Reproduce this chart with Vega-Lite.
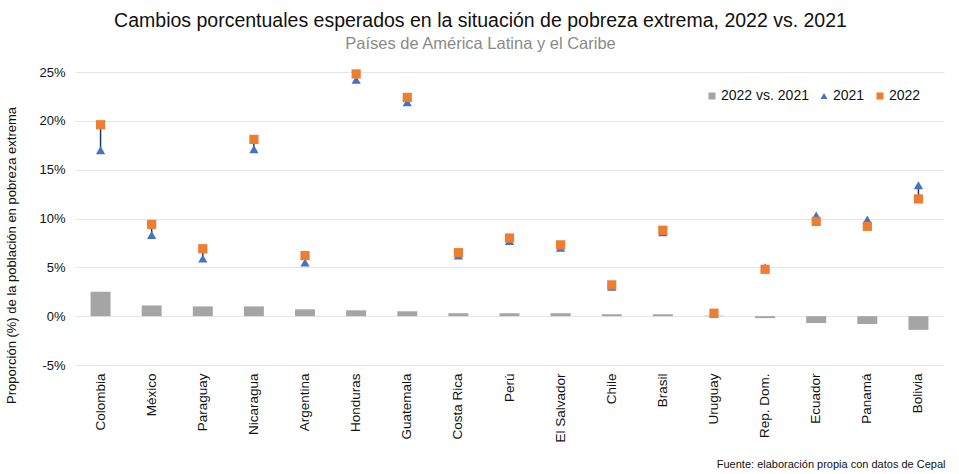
{
  "$schema": "https://vega.github.io/schema/vega-lite/v6.json",
  "autosize": "none",
  "width": 869,
  "height": 293,
  "padding": {"left": 75, "top": 72, "right": 15, "bottom": 109},
  "background": "white",
  "config": {
    "font": "Liberation Sans",
    "view": {"stroke": null}
  },
  "title": {
    "text": "Cambios porcentuales esperados en la situación de pobreza extrema, 2022 vs. 2021",
    "subtitle": "Países de América Latina y el Caribe",
    "anchor": "middle",
    "dx": -29,
    "offset": 13,
    "fontSize": 19.5,
    "fontWeight": "normal",
    "color": "#111111",
    "subtitleFontSize": 16.5,
    "subtitleColor": "#8a8a8a",
    "subtitlePadding": 4
  },
  "data": {
    "values": [
      {"pais": "Colombia", "v2021": 17.0, "v2022": 19.6, "diff": 2.5},
      {"pais": "México", "v2021": 8.3, "v2022": 9.4, "diff": 1.1},
      {"pais": "Paraguay", "v2021": 5.9, "v2022": 6.9, "diff": 1.0},
      {"pais": "Nicaragua", "v2021": 17.1, "v2022": 18.1, "diff": 1.0},
      {"pais": "Argentina", "v2021": 5.5, "v2022": 6.2, "diff": 0.7},
      {"pais": "Honduras", "v2021": 24.2, "v2022": 24.8, "diff": 0.6},
      {"pais": "Guatemala", "v2021": 21.9, "v2022": 22.4, "diff": 0.5},
      {"pais": "Costa Rica", "v2021": 6.2, "v2022": 6.5, "diff": 0.3},
      {"pais": "Perú", "v2021": 7.7, "v2022": 8.0, "diff": 0.3},
      {"pais": "El Salvador", "v2021": 7.0, "v2022": 7.3, "diff": 0.3},
      {"pais": "Chile", "v2021": 3.0, "v2022": 3.2, "diff": 0.2},
      {"pais": "Brasil", "v2021": 8.6, "v2022": 8.8, "diff": 0.2},
      {"pais": "Uruguay", "v2021": 0.25, "v2022": 0.3, "diff": 0.05},
      {"pais": "Rep. Dom.", "v2021": 5.0, "v2022": 4.8, "diff": -0.2},
      {"pais": "Ecuador", "v2021": 10.3, "v2022": 9.7, "diff": -0.7},
      {"pais": "Panamá", "v2021": 9.9, "v2022": 9.2, "diff": -0.8},
      {"pais": "Bolivia", "v2021": 13.4, "v2022": 12.0, "diff": -1.4}
    ]
  },
  "encoding": {
    "x": {
      "field": "pais",
      "type": "nominal",
      "sort": null,
      "scale": {"paddingInner": 0, "paddingOuter": 0},
      "axis": {
        "title": "Fuente: elaboración propia con datos de Cepal",
        "titleFontSize": 11,
        "titleFontWeight": "normal",
        "titleColor": "#111111",
        "titleAnchor": "end",
        "titleAlign": "right",
        "titleX": 870,
        "titleY": 102,
        "titleBaseline": "alphabetic",
        "labelAngle": -90,
        "labelAlign": "right",
        "labelBaseline": "middle",
        "labelFontSize": 13.5,
        "labelColor": "#111111",
        "labelPadding": 8,
        "ticks": false,
        "domain": false,
        "grid": false,
        "offset": 0
      }
    },
    "y": {
      "field": "val",
      "type": "quantitative",
      "scale": {"domain": [-5, 25], "nice": false},
      "axis": {
        "values": [-5, 0, 5, 10, 15, 20, 25],
        "labelExpr": "datum.value + '%'",
        "labelFontSize": 13,
        "labelColor": "#111111",
        "labelPadding": 10,
        "ticks": false,
        "domain": false,
        "grid": true,
        "gridColor": "#e6e6e6",
        "gridWidth": 1.2,
        "title": "Proporción (%) de la población en pobreza extrema",
        "titleFontSize": 13,
        "titleFontWeight": "normal",
        "titleColor": "#111111",
        "titleX": -57,
        "titleY": 183,
        "titleAngle": -90,
        "titleAlign": "center",
        "titleBaseline": "bottom"
      }
    }
  },
  "layer": [
    {
      "transform": [{"fold": ["diff"], "as": ["k", "val"]}, {"calculate": "'2022 vs. 2021'", "as": "serie"}],
      "mark": {"type": "bar", "size": 20},
      "encoding": {
        "y2": {"datum": 0},
        "color": {
          "field": "serie",
          "type": "nominal",
          "scale": {"domain": ["2022 vs. 2021", "2021", "2022"], "range": ["#a5a5a5", "#4472c4", "#ed7d31"]},
          "legend": {
            "title": null,
            "orient": "none",
            "legendX": 630,
            "legendY": 17,
            "direction": "horizontal",
            "labelFontSize": 14,
            "labelColor": "#111111",
            "symbolSize": 50,
            "columnPadding": 8,
            "labelOffset": 2
          }
        }
      }
    },
    {
      "mark": {"type": "rule", "color": "#d0d0d0", "strokeWidth": 1.5},
      "encoding": {"y": {"datum": 0, "type": "quantitative"}}
    },
    {
      "mark": {"type": "rule", "color": "#1f3864", "strokeWidth": 1.5},
      "encoding": {
        "y": {"field": "v2021", "type": "quantitative"},
        "y2": {"field": "v2022"}
      }
    },
    {
      "transform": [{"fold": ["v2021", "v2022"], "as": ["k", "val"]}, {"calculate": "datum.k == 'v2021' ? '2021' : '2022'", "as": "serie"}],
      "mark": {"type": "point", "filled": true, "opacity": 1, "size": 85},
      "encoding": {
        "color": {
          "field": "serie",
          "type": "nominal",
          "scale": {"domain": ["2022 vs. 2021", "2021", "2022"], "range": ["#a5a5a5", "#4472c4", "#ed7d31"]},
          "legend": {
            "title": null,
            "orient": "none",
            "legendX": 630,
            "legendY": 17,
            "direction": "horizontal",
            "labelFontSize": 14,
            "labelColor": "#111111",
            "symbolSize": 50,
            "columnPadding": 8,
            "labelOffset": 2
          }
        },
        "shape": {
          "field": "serie",
          "type": "nominal",
          "scale": {"domain": ["2022 vs. 2021", "2021", "2022"], "range": ["square", "triangle-up", "square"]},
          "legend": {
            "title": null,
            "orient": "none",
            "legendX": 630,
            "legendY": 17,
            "direction": "horizontal",
            "labelFontSize": 14,
            "labelColor": "#111111",
            "symbolSize": 50,
            "columnPadding": 8,
            "labelOffset": 2
          }
        },
        "zindex": {"field": "k"}
      }
    }
  ]
}
